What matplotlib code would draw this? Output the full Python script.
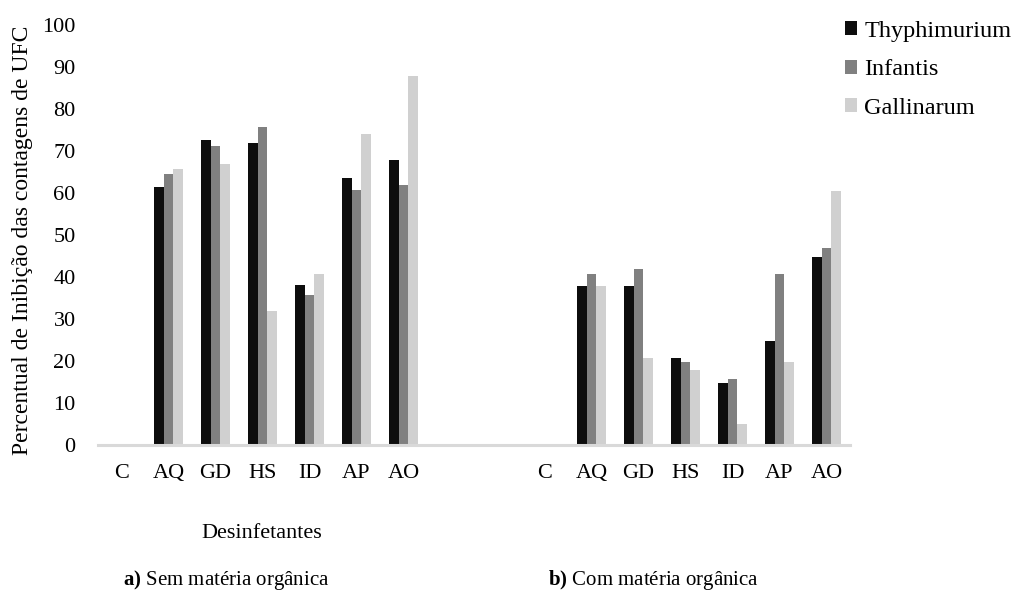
import numpy as np
import matplotlib.pyplot as plt
from matplotlib.patches import Patch

plt.rcParams['font.family'] = ['Liberation Serif', 'DejaVu Serif']
plt.rcParams['mathtext.fontset'] = 'custom'
plt.rcParams['mathtext.bf'] = 'Liberation Serif:bold'
plt.rcParams['mathtext.rm'] = 'Liberation Serif'

categories = ['C', 'AQ', 'GD', 'HS', 'ID', 'AP', 'AO']
series = ['Thyphimurium', 'Infantis', 'Gallinarum']

# a) sem matéria orgânica
sem_thy = [0, 61.5, 72.5, 71.8, 38.0, 63.5, 67.8]
sem_inf = [0, 64.5, 71.2, 75.8, 35.8, 60.6, 61.8]
sem_gal = [0, 65.8, 66.8, 32.0, 40.8, 74.0, 87.8]

# b) com matéria orgânica
com_thy = [0, 37.8, 37.8, 20.8, 14.8, 24.8, 44.8]
com_inf = [0, 40.8, 41.8, 19.8, 15.7, 40.8, 46.8]
com_gal = [0, 37.8, 20.8, 17.8, 5.0, 19.8, 60.5]

colors = ['#0d0d0d', '#808080', '#d0d0d0']

fig = plt.figure(figsize=(10.13, 5.98), dpi=100)
ax = fig.add_axes([0.0967, 0.2559, 0.7424, 0.7023])

x_left = np.arange(len(categories))
x_right = x_left + len(categories) + 2
x = np.concatenate([x_left, x_right])
w = 0.2

data = [sem_thy + com_thy, sem_inf + com_inf, sem_gal + com_gal]
for i, (vals, c) in enumerate(zip(data, colors)):
    ax.bar(x + (i - 1) * w, vals, width=w, color=c, label=series[i])

ax.set_xlim(-0.5, x_right[-1] + 0.5)
ax.set_ylim(0, 100)
ax.set_yticks(np.arange(0, 101, 10))
ax.set_xticks(x)
ax.set_xticklabels(categories + categories)

for s in ['top', 'right', 'left']:
    ax.spines[s].set_visible(False)
ax.spines['bottom'].set_color('#d9d9d9')
ax.spines['bottom'].set_linewidth(2.2)
ax.tick_params(axis='both', length=0, labelsize=16)
ax.tick_params(axis='x', pad=14)
ax.tick_params(axis='y', pad=16)

ax.set_ylabel('Percentual de Inibição das contagens de UFC', fontsize=17)
ax.yaxis.set_label_coords(-0.086, 0.488)

fig.text(262 / 1013, 1 - 533 / 598, 'Desinfetantes', fontsize=16,
         ha='center', va='center')
fig.text(226 / 1013, 1 - 580 / 598, r'$\mathbf{a)}$ Sem matéria orgânica',
         fontsize=15, ha='center', va='center')
fig.text(654 / 1013, 1 - 580 / 598, r'$\mathbf{b)}$ Com matéria orgânica',
         fontsize=15, ha='center', va='center')

handles = [Patch(facecolor=c) for c in colors]
fig.legend(handles, series, loc='upper left', bbox_to_anchor=(835 / 1013, 1 - 11 / 598),
           frameon=False, fontsize=17.5, handlelength=0.5, handleheight=0.5,
           handletextpad=0.3, labelspacing=0.72, borderaxespad=0)

fig.savefig('out.png', dpi=100)
